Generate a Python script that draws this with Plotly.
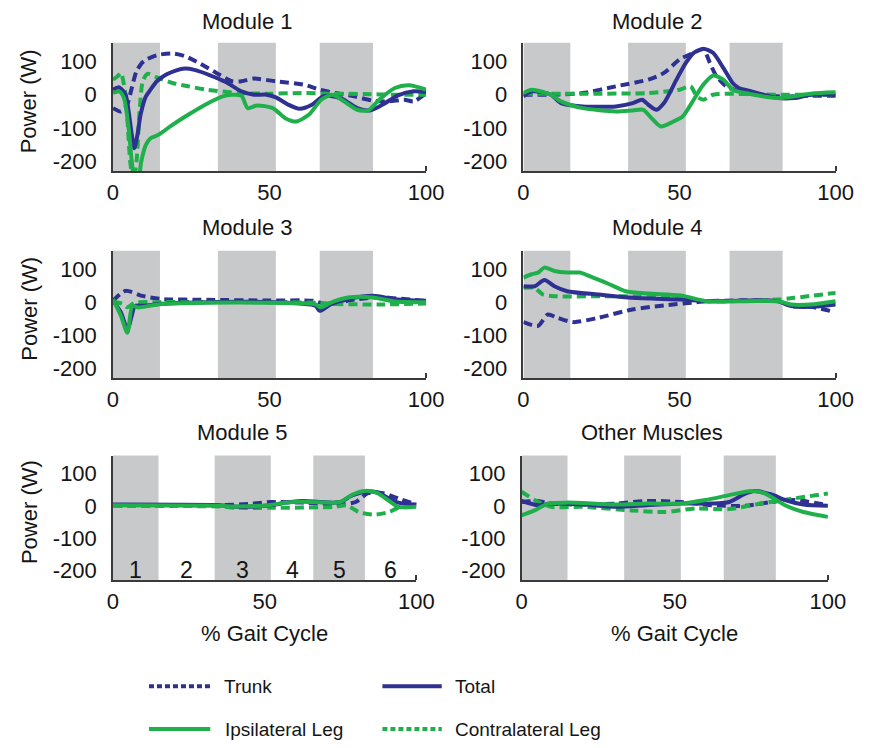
import plotly.graph_objects as go

# ---------------- data ----------------
TITLES = ["Module 1", "Module 2", "Module 3", "Module 4", "Module 5", "Other Muscles"]
SERIES = ["Trunk", "Total", "Ipsilateral Leg", "Contralateral Leg"]
PHASE_BOUNDS = [0, 15, 33.5, 52, 66, 83, 100]
PHASE_LABELS = ["1", "2", "3", "4", "5", "6"]
XTICKS = [0, 50, 100]
YTICKS = [-200, -100, 0, 100]

# Module 1
M1_TRUNK_X = [0, 2.5, 4.5, 6, 7.5, 9.8, 14, 19, 23, 28, 33, 38, 41, 45, 52, 61, 66, 71, 77, 83, 88, 93, 96, 100]
M1_TRUNK_Y = [-40, -50, -30, 20, 70, 100, 118, 123, 115, 92, 65, 40, 40, 48, 40, 30, 15, 5, -5, -18, -20, -15, -20, 5]
M1_TOTAL_X = [0, 2, 4, 5, 6, 6.8, 7.8, 8.8, 10.5, 12, 14, 17, 20, 23, 26, 31, 36, 41, 45, 49, 52, 56, 59.5, 63.5, 67, 69, 73, 78, 82, 86, 91, 96, 100]
M1_TOTAL_Y = [15, 22, 0, -50, -120, -160, -120, -60, -5, 15, 40, 60, 72, 78, 74, 58, 38, 10, 0, 0, -8, -30, -42, -30, -5, -3, -12, -40, -47, -30, -2, 10, 8]
M1_IPSI_X = [0, 2, 3.5, 5, 6, 7, 8, 9, 10.5, 12, 14, 16, 19, 24, 29, 35, 38, 41, 43, 46, 51, 55, 58.5, 62.5, 66.5, 70, 73, 78, 81.5, 85, 90, 94.5, 100]
M1_IPSI_Y = [5, 10, -10, -100, -200, -260, -260, -200, -150, -130, -122, -110, -90, -60, -32, -5, 0, -3, -40, -32, -40, -70, -80, -60, -15, 0, -15, -45, -47, -15, 20, 28, 15]
M1_CONTRA_X = [0, 1.5, 2.5, 4, 5.5, 6.5, 7.5, 8.5, 9.5, 11, 14, 19, 24, 30, 40, 50, 60, 70, 80, 90, 100]
M1_CONTRA_Y = [45, 55, 65, 0, -200, -260, -200, -50, 40, 62, 52, 35, 25, 15, 5, 3, 5, 3, 2, 0, 0]

# Module 2
M2_TRUNK_X = [0, 8.8, 19, 29.6, 40, 45, 50, 54.5, 57.6, 59.7, 61.8, 65, 71, 81.5, 92, 100]
M2_TRUNK_Y = [0, 0, 5, 25, 45, 65, 105, 125, 135, 95, 55, 25, 5, -5, -3, -3]
M2_TOTAL_X = [0, 2.6, 8.8, 12, 19, 29.6, 35, 38, 40, 42.6, 45, 49, 52, 54.5, 57.6, 60.7, 64, 67, 69, 73, 81.5, 86.7, 92, 100]
M2_TOTAL_Y = [-5, 10, 0, -25, -35, -35, -25, -15, -30, -45, -25, 45, 95, 125, 137, 125, 80, 35, 20, 10, -10, -10, 0, 0]
M2_IPSI_X = [0, 2.6, 8.8, 12, 19, 29.6, 35, 38.4, 41, 44, 48, 51, 54.5, 57.6, 60.7, 64, 67, 71, 81.5, 92, 100]
M2_IPSI_Y = [5, 15, 0, -20, -40, -50, -47, -45, -70, -95, -80, -65, -15, 30, 57, 45, 15, 5, -10, 3, 7]
M2_CONTRA_X = [0, 20, 40, 50, 53.5, 55.5, 57.6, 60.7, 80, 100]
M2_CONTRA_Y = [3, 3, 5, 15, 25, -5, -15, 0, 0, 0]

# Module 3
M3_TRUNK_X = [0, 4, 9.3, 15, 30, 50, 64, 68, 78, 85, 92, 100]
M3_TRUNK_Y = [4, 34, 19, 10, 7, 5, 4, -6, 9, 15, 10, 4]
M3_TOTAL_X = [0, 2.5, 4.6, 6, 7, 10, 15, 30, 50, 64.6, 66, 69.6, 75, 83, 90, 100]
M3_TOTAL_Y = [4, -30, -82, -40, -11, -11, -5, 0, 0, -11, -26, -6, 9, 19, 9, 4]
M3_IPSI_X = [0, 2.5, 4.6, 6.2, 8, 15, 30, 50, 64.5, 66.3, 69.6, 75, 83, 90, 100]
M3_IPSI_Y = [9, -40, -92, -11, -16, -6, -2, -2, -6, -16, -1, 14, 14, 2, 0]
M3_CONTRA_X = [0, 3, 4.6, 7, 15, 50, 66, 70, 85, 100]
M3_CONTRA_Y = [2, -5, -15, -2, 0, 0, -2, -5, -7, -4]

# Module 4
M4_TRUNK_X = [0, 4.7, 7.8, 10.9, 16, 24, 34.8, 45, 55.5, 58.7, 81.5, 85.7, 92, 98.6]
M4_TRUNK_Y = [-60, -71, -37, -47, -60, -47, -22, -10, 0, 3, 3, -12, -14, -27]
M4_TOTAL_X = [0, 3.6, 6.7, 9.9, 14, 24, 34.8, 50.4, 58.7, 81.5, 85.7, 92, 100]
M4_TOTAL_Y = [48, 48, 67, 48, 33, 23, 13, 8, 3, 3, -12, -14, -7]
M4_IPSI_X = [0, 2.6, 4.7, 6.7, 9.9, 14, 18, 22.3, 27.5, 32.7, 40, 50.4, 58.7, 71, 81.5, 85.7, 92, 100]
M4_IPSI_Y = [74, 84, 89, 104, 94, 89, 89, 74, 54, 33, 26, 20, 3, 3, 3, -7, -7, 3]
M4_CONTRA_X = [0, 3.6, 6.2, 9.9, 29.6, 50.4, 58.7, 81.5, 86.7, 100]
M4_CONTRA_Y = [43, 43, 23, 18, 18, 13, 3, 8, 13, 28]

# Module 5
M5_TRUNK_X = [0, 35, 46, 52, 62, 75, 80, 84, 89, 94, 100]
M5_TRUNK_Y = [2, 2, 7, 12, 10, 4, 12, 39, 39, 23, 4]
M5_TOTAL_X = [0, 35, 41, 52, 57, 62, 73, 75, 79, 84, 87, 91, 94, 100]
M5_TOTAL_Y = [4, 2, -3, 2, 10, 15, 10, 12, 33, 44, 42, 23, 10, 4]
M5_IPSI_X = [0, 35, 41, 52, 57, 62, 73, 75, 79, 83, 87, 91, 94, 100]
M5_IPSI_Y = [2, 0, -2, 3, 10, 13, 10, 12, 35, 46, 40, 15, -3, -3]
M5_CONTRA_X = [0, 35, 41, 52, 73, 77, 81, 86, 91, 94, 100]
M5_CONTRA_Y = [0, -2, -6, -6, -3, 2, -19, -27, -19, -6, -3]

# Other muscles
M6_TRUNK_X = [0, 5.4, 9.6, 20, 30.8, 41, 52, 62, 73, 81.6, 89, 100]
M6_TRUNK_Y = [12, 15, 7, 4, 7, 15, 12, 2, 0, 12, 18, 2]
M6_TOTAL_X = [0, 5.4, 9.6, 20, 30.8, 41, 52, 62, 67.8, 73, 76, 81.6, 86, 92, 100]
M6_TOTAL_Y = [15, 2, 7, 4, -3, 2, 7, 7, 12, 38, 46, 35, 18, 4, 0]
M6_IPSI_X = [0, 4.3, 8.6, 15, 30.8, 41, 52, 60, 67.8, 75, 79.5, 86, 92, 100]
M6_IPSI_Y = [-29, -14, 7, 10, 4, 7, 7, 18, 33, 46, 38, 2, -19, -34]
M6_CONTRA_X = [0, 4.3, 9.6, 20, 36, 46.6, 57, 67.8, 78, 89, 100]
M6_CONTRA_Y = [44, 18, -3, -3, -14, -19, -8, -10, 7, 23, 38]

MODULES = [
    (M1_TRUNK_X, M1_TRUNK_Y, M1_TOTAL_X, M1_TOTAL_Y, M1_IPSI_X, M1_IPSI_Y, M1_CONTRA_X, M1_CONTRA_Y),
    (M2_TRUNK_X, M2_TRUNK_Y, M2_TOTAL_X, M2_TOTAL_Y, M2_IPSI_X, M2_IPSI_Y, M2_CONTRA_X, M2_CONTRA_Y),
    (M3_TRUNK_X, M3_TRUNK_Y, M3_TOTAL_X, M3_TOTAL_Y, M3_IPSI_X, M3_IPSI_Y, M3_CONTRA_X, M3_CONTRA_Y),
    (M4_TRUNK_X, M4_TRUNK_Y, M4_TOTAL_X, M4_TOTAL_Y, M4_IPSI_X, M4_IPSI_Y, M4_CONTRA_X, M4_CONTRA_Y),
    (M5_TRUNK_X, M5_TRUNK_Y, M5_TOTAL_X, M5_TOTAL_Y, M5_IPSI_X, M5_IPSI_Y, M5_CONTRA_X, M5_CONTRA_Y),
    (M6_TRUNK_X, M6_TRUNK_Y, M6_TOTAL_X, M6_TOTAL_Y, M6_IPSI_X, M6_IPSI_Y, M6_CONTRA_X, M6_CONTRA_Y),
]

# ---------------- styling / layout ----------------
W, H = 879, 748
BLUE = "#2E3192"
GREEN = "#1FB04C"
GRAY = "#C8C9CB"
AXCOL = "#3a3a3a"
TXT = "#151515"
FONT = "Liberation Sans, Arial, Helvetica, sans-serif"
PLOT_DASH = "9px,5px"
FS = 22

# pixel boxes of the plot areas (x0, x1, ytop, ybottom)
BOXES = [
    (110, 432, 43, 172), (532, 853, 43, 172),
    (110, 432, 252, 380), (532, 853, 252, 380),
    (110, 422, 458, 583), (530, 845, 458, 583),
]
YRANGE = [-228, 155]

def px(x):
    return x / W

def py(y):
    return 1 - y / H

STYLES = [
    dict(color=BLUE, dash=PLOT_DASH),
    dict(color=BLUE, dash="solid"),
    dict(color=GREEN, dash="solid"),
    dict(color=GREEN, dash=PLOT_DASH),
]
DRAW_ORDER = [0, 3, 1, 2]

fig = go.Figure()
layout = dict(
    width=W, height=H, margin=dict(l=0, r=0, t=0, b=0),
    paper_bgcolor="white", plot_bgcolor="white", showlegend=False,
    font=dict(family=FONT, size=FS, color=TXT),
)
shapes = []
annotations = []

for i, (title, mod, box) in enumerate(zip(TITLES, MODULES, BOXES)):
    n = i + 1
    xa = "x" if n == 1 else f"x{n}"
    ya = "y" if n == 1 else f"y{n}"
    x0, x1, yt, yb = box
    layout[f"xaxis{'' if n == 1 else n}"] = dict(
        domain=[px(x0), px(x1)], range=[0, 100], anchor=ya,
        showline=True, linecolor=AXCOL, linewidth=1.5, showgrid=False, zeroline=False,
        ticks="", tickvals=XTICKS, ticktext=[str(v) for v in XTICKS],
        tickfont=dict(size=FS, family=FONT, color=TXT), ticklabelstandoff=1,
        minor=dict(tickvals=[100], ticks="inside", ticklen=5, tickcolor=AXCOL, tickwidth=1.5),
    )
    layout[f"yaxis{'' if n == 1 else n}"] = dict(
        domain=[py(yb), py(yt)], range=YRANGE, anchor=xa,
        showline=True, linecolor=AXCOL, linewidth=1.5, showgrid=False, zeroline=False,
        ticks="", tickvals=YTICKS, ticktext=[str(v) for v in YTICKS],
        tickfont=dict(size=FS, family=FONT, color=TXT), ticklabelstandoff=10,
    )
    # shaded phases 1, 3, 5
    for k in (0, 2, 4):
        shapes.append(dict(type="rect", xref=xa, yref=f"{ya} domain",
                           x0=PHASE_BOUNDS[k], x1=PHASE_BOUNDS[k + 1], y0=0, y1=1,
                           fillcolor=GRAY, line=dict(width=0), layer="below"))
    for s in DRAW_ORDER:
        xs, ys = mod[2 * s], mod[2 * s + 1]
        st = STYLES[s]
        fig.add_trace(go.Scatter(
            x=xs, y=ys, mode="lines", name=SERIES[s], xaxis=xa, yaxis=ya,
            line=dict(color=st["color"], dash=st["dash"], width=4, shape="spline", smoothing=0.7),
            hoverinfo="skip",
        ))
    # subplot title
    annotations.append(dict(text=title, xref="paper", yref="paper",
                            x=px((x0 + x1) / 2 - 23), y=py(yt - 21 if i < 2 else yt - 23),
                            xanchor="center", yanchor="middle", showarrow=False,
                            font=dict(size=FS, family=FONT, color=TXT)))
    if i % 2 == 0:
        annotations.append(dict(text="Power (W)", xref="paper", yref="paper",
                                x=px(24), y=py((yt + yb) / 2 - 6), textangle=-90,
                                xanchor="center", yanchor="middle", showarrow=False,
                                font=dict(size=FS, family=FONT, color=TXT)))
    if i >= 4:
        annotations.append(dict(text="% Gait Cycle", xref="paper", yref="paper",
                                x=px((x0 + x1) / 2), y=py(637),
                                xanchor="center", yanchor="middle", showarrow=False,
                                font=dict(size=FS, family=FONT, color=TXT)))

# phase numbers in Module 5
for k, lab in enumerate(PHASE_LABELS):
    annotations.append(dict(text=lab, xref="x5", yref="y5",
                            x=(PHASE_BOUNDS[k] + PHASE_BOUNDS[k + 1]) / 2, y=-197,
                            xanchor="center", yanchor="middle", showarrow=False,
                            font=dict(size=23, family=FONT, color=TXT)))

# legend (drawn as shapes + text)
LEG = [
    (0, 147, 210, 690, 222),
    (1, 387, 448, 690, 460),
    (2, 147, 210, 733, 223),
    (3, 387, 448, 733, 460),
]
for s, lx0, lx1, ly, tx in LEG:
    st = STYLES[s]
    shapes.append(dict(type="line", xref="paper", yref="paper",
                       x0=px(lx0), x1=px(lx1), y0=py(ly), y1=py(ly),
                       line=dict(color=st["color"], width=4,
                                 dash="5px,3px" if st["dash"] != "solid" else "solid")))
    annotations.append(dict(text=SERIES[s], xref="paper", yref="paper",
                            x=px(tx), y=py(ly), xanchor="left", yanchor="middle",
                            showarrow=False,
                            font=dict(size=19, family=FONT, color=TXT)))

layout["shapes"] = shapes
layout["annotations"] = annotations
fig.update_layout(**layout)
fig.write_html("out.html")
